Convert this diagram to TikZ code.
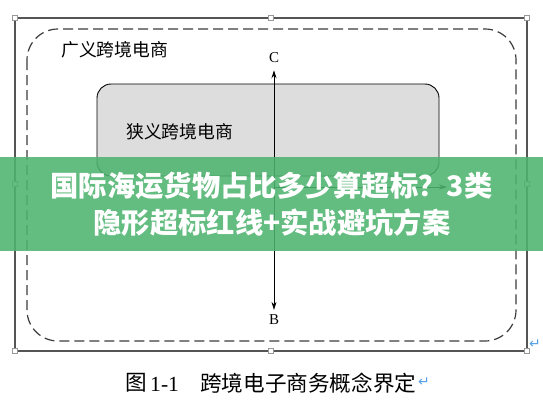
\documentclass[tikz,border=0pt]{standalone}
\usepackage{fontspec}
\setmainfont{Liberation Serif}
\newfontfamily\cjk{Noto Sans CJK SC}
\newfontfamily\symf{DejaVu Sans}
\usetikzlibrary{arrows.meta}
\definecolor{framecol}{RGB}{85,85,85}
\definecolor{dashcol}{RGB}{60,60,60}
\definecolor{boxfill}{RGB}{221,221,221}
\definecolor{bannercol}{RGB}{78,179,111}
\definecolor{retcol}{RGB}{90,160,230}
\tikzset{
  handle/.style={draw=gray!80, fill=white, line width=0.6},
  dashbox/.style={draw=dashcol, line width=1.2, dash pattern=on 10 off 5, rounded corners=31},
  graybox/.style={draw=black, fill=boxfill, line width=0.9, rounded corners=14, inner sep=0},
  cjklabel/.style={font=\cjk\fontsize{17.8}{20}\selectfont, inner sep=0, anchor=west},
  letter/.style={font=\fontsize{15}{17}\selectfont, inner sep=0},
  arr/.style={line width=0.9, black},
  bannertext/.style={font=\cjk\bfseries\fontsize{28.3}{30}\selectfont, text=white, inner sep=0},
  caption/.style={font=\fontsize{21.6}{23}\selectfont, inner sep=0, anchor=west},
  retmark/.style={font=\symf\fontsize{14}{16}\selectfont, text=retcol, inner sep=0},
}
\begin{document}
\begin{tikzpicture}[x=1pt,y=-1pt]
\useasboundingbox (0,0) rectangle (543,408);
\fill[white] (0,0) rectangle (543,408);
% outer frame
\draw[framecol, line width=1.5] (15,18) rectangle (527,351);
\foreach \x/\y in {15/18,271/18,527/18,15/184,527/184,15/351,271/351,527/351}
  \filldraw[handle] (\x-2.7,\y-2.7) rectangle (\x+2.7,\y+2.7);
% dashed rounded box
\draw[dashbox] (27,29) rectangle (516,341);
\node[cjklabel] (wide) at (61,50) {广义跨境电商};
% gray box
\node[graybox, minimum width=342pt, minimum height=92pt] (narrowbox) at (268,130) {};
\node[cjklabel] (narrow) at (126,132) {狭义跨境电商};
% axis
\node[letter] (C) at (274,58) {C};
\node[letter] (B) at (274,320) {B};
\draw[arr, {Stealth[length=8,width=5]}-{Stealth[length=8,width=5]}, shorten <=7pt, shorten >=5pt] (C.south) -- (B.north);
\coordinate (hA) at (274,187);
\coordinate (hB) at (447,187);
\draw[arr, -{Stealth[length=8,width=5]}] (hA) -- (hB);
% banner
\fill[bannercol, opacity=0.88] (0,157) rectangle (543,251);
\node[bannertext] (t1) at (271.5,186) {国际海运货物占比多少算超标？3类};
\node[bannertext] (t2) at (272,223) {隐形超标红线+实战避坑方案};
% caption
\node[caption] (fig) at (125,383) {\cjk 图};
\node[caption] (num) at (150,384) {1-1};
\node[caption] (captext) at (200,383) {\cjk 跨境电子商务概念界定};
\node[retmark] (ret1) at (424,382) {↵};
\node[retmark] (ret2) at (535,344) {↵};
\end{tikzpicture}
\end{document}
